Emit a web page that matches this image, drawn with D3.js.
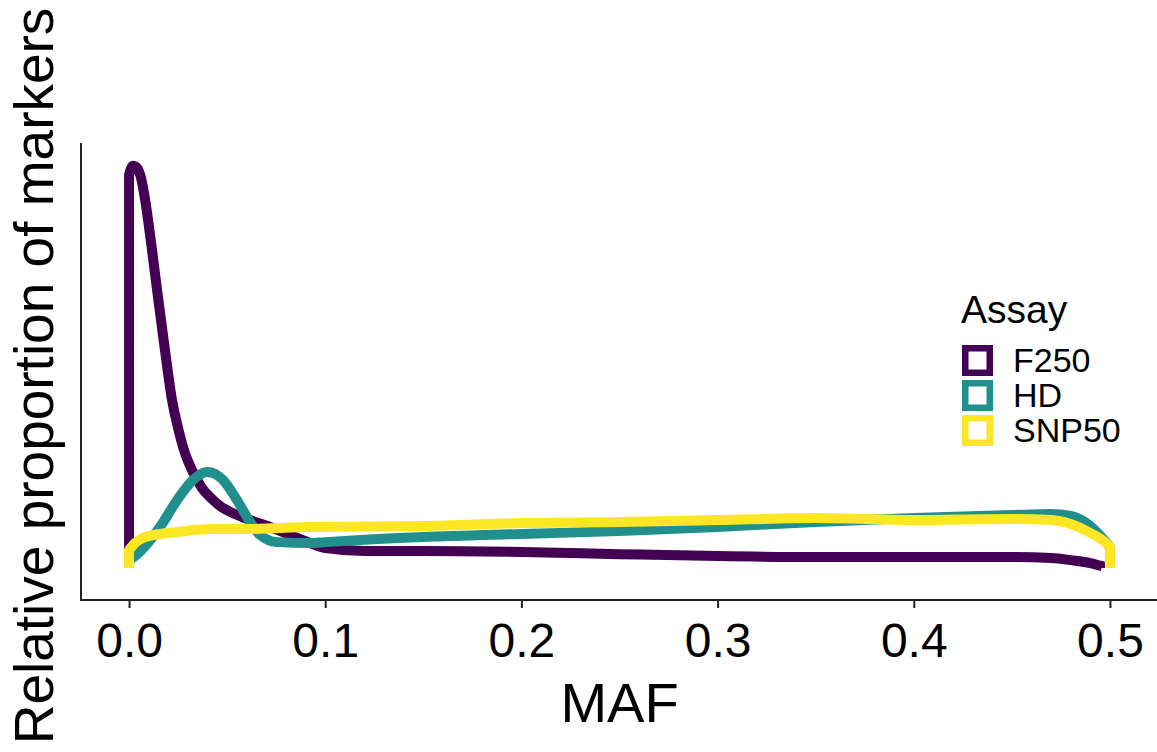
<!DOCTYPE html>
<html>
<head>
<meta charset="utf-8">
<script src="https://cdn.jsdelivr.net/npm/d3@7"></script>
<style>
  html, body { margin: 0; padding: 0; background: #fff; }
  svg { display: block; font-family: "Liberation Sans", Arial, Helvetica, sans-serif; }
</style>
</head>
<body>
<svg id="chart" width="1157" height="752"></svg>
<script>
// ---- Data ----
const assays = ["F250", "HD", "SNP50"];
const colors = ["#440154", "#21908C", "#FDE725"];
const xTicks = [0.0, 0.1, 0.2, 0.3, 0.4, 0.5];

// [MAF, relative density]
const f250 = [
  [0, 16.375], [0.002, 16.75], [0.0041, 16.66], [0.0061, 16.25], [0.0082, 15.33],
  [0.0117, 13.25], [0.0148, 11.25], [0.0183, 9.08], [0.0219, 7.0], [0.025, 5.83],
  [0.0285, 4.79], [0.0321, 4.08], [0.0372, 3.33], [0.0423, 2.875],
  [0.0464, 2.58], [0.054, 2.25], [0.0617, 2.0], [0.0719, 1.71], [0.082, 1.375],
  [0.0923, 1.04], [0.1, 0.83], [0.12, 0.71], [0.15, 0.71], [0.2, 0.67],
  [0.25, 0.58], [0.3, 0.5], [0.35, 0.46], [0.4, 0.46], [0.45, 0.46],
  [0.47, 0.42], [0.48, 0.33], [0.49, 0.21], [0.496, 0.08]
];
const hd = [
  [0, 0.33], [0.003, 0.5], [0.0158, 1.71], [0.0245, 2.83], [0.0326, 3.67],
  [0.0398, 4.0], [0.0479, 3.67], [0.055, 2.83], [0.0617, 1.92], [0.0668, 1.375],
  [0.0754, 1.08], [0.0923, 1.04], [0.1, 1.08], [0.15, 1.29], [0.2, 1.42],
  [0.25, 1.54], [0.3, 1.71], [0.35, 1.92], [0.4, 2.08], [0.45, 2.21],
  [0.47, 2.25], [0.48, 2.17], [0.49, 1.75], [0.497, 1.17], [0.5, 0.875]
];
const snp50 = [
  [0, 0.75], [0.003, 1.04], [0.007, 1.25], [0.0158, 1.42], [0.0245, 1.5],
  [0.0413, 1.625], [0.058, 1.625], [0.0923, 1.71], [0.15, 1.75], [0.2, 1.875],
  [0.25, 1.92], [0.3, 2.0], [0.35, 2.08], [0.4, 2.0], [0.45, 2.04],
  [0.47, 2.0], [0.48, 1.83], [0.49, 1.46], [0.498, 1.04], [0.5, 0.875]
];
const seriesValues = [f250, hd, snp50];

// ---- Layout ----
const svg = d3.select("#chart");
const panel = { left: 80, right: 1159, top: 143, bottom: 600 };

const x = d3.scaleLinear().domain([-0.025, 0.525]).range([panel.left, panel.right]);
const y = d3.scaleLinear().domain([-1.33, 17.7]).range([panel.bottom, panel.top]);

// ---- Curves ----
const curveGen = d3.line().x(d => x(d[0])).y(d => y(d[1])).curve(d3.curveMonotoneX);

seriesValues.forEach((pts, i) => {
  const first = pts[0], last = pts[pts.length - 1];
  const body = curveGen(pts);
  const d = `M${x(first[0])},${y(0)}L` + body.slice(1) + `L${x(last[0])},${y(0)}`;
  svg.append("path")
    .attr("d", d)
    .attr("fill", "none")
    .attr("stroke", colors[i])
    .attr("stroke-width", 10)
    .attr("stroke-linejoin", "round")
    .attr("stroke-linecap", "butt");
});

// ---- Axes ----
const axisColor = "#222";
svg.append("line")
  .attr("x1", panel.left + 1).attr("x2", panel.left + 1)
  .attr("y1", panel.top).attr("y2", panel.bottom)
  .attr("stroke", axisColor).attr("stroke-width", 2);

const xAxis = d3.axisBottom(x)
  .tickValues(xTicks)
  .tickFormat(d3.format(".1f"))
  .tickSize(8)
  .tickSizeOuter(0)
  .tickPadding(6);

const gx = svg.append("g")
  .attr("transform", `translate(0,${panel.bottom})`)
  .call(xAxis);
gx.select(".domain").attr("stroke", axisColor).attr("stroke-width", 2)
  .attr("d", `M${panel.left},0H${panel.right}`);
gx.selectAll(".tick line").attr("stroke", axisColor).attr("stroke-width", 2);
gx.selectAll(".tick text")
  .attr("fill", "#000")
  .attr("font-size", 48)
  .attr("font-family", "'Liberation Sans', Arial, sans-serif")
  .attr("dy", null)
  .attr("y", 57);

svg.append("text")
  .attr("x", (x(0) + x(0.5)) / 2)
  .attr("y", 722)
  .attr("text-anchor", "middle")
  .attr("font-size", 56)
  .attr("fill", "#000")
  .text("MAF");

svg.append("text")
  .attr("transform", `translate(53,${376}) rotate(-90)`)
  .attr("text-anchor", "middle")
  .attr("font-size", 55)
  .attr("fill", "#000")
  .text("Relative proportion of markers");

// ---- Legend ----
const legend = svg.append("g");
legend.append("text")
  .attr("x", 961).attr("y", 323)
  .attr("font-size", 39)
  .attr("fill", "#000")
  .text("Assay");

assays.forEach((name, i) => {
  const top = 345 + i * 35;
  legend.append("rect")
    .attr("x", 965.25).attr("y", top + 3.25)
    .attr("width", 24.5).attr("height", 24.5)
    .attr("fill", "#fff")
    .attr("stroke", colors[i])
    .attr("stroke-width", 6.5);
  legend.append("text")
    .attr("x", 1013).attr("y", top + 27)
    .attr("font-size", 34)
    .attr("fill", "#000")
    .text(name);
});
</script>
</body>
</html>
